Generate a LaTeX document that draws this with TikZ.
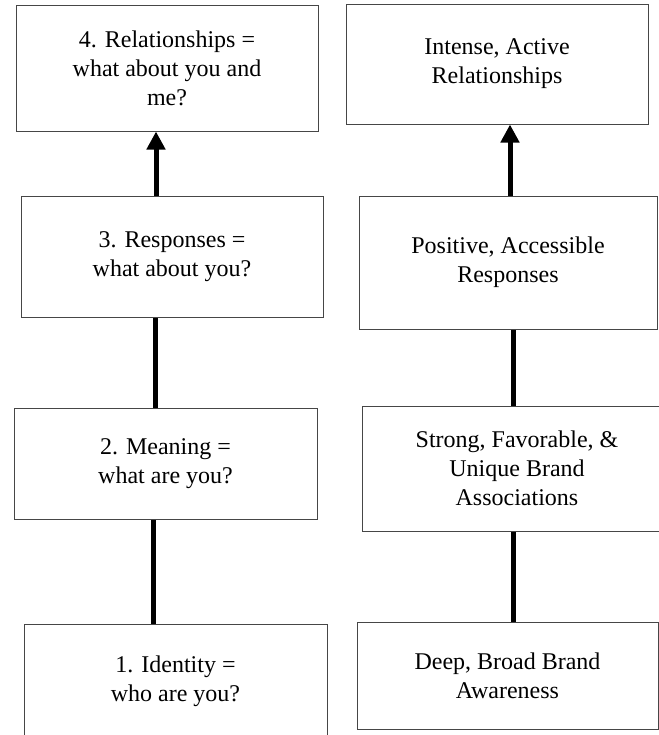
\documentclass[tikz,border=0pt]{standalone}
\usepackage{fontspec}
\setmainfont{Liberation Serif}
\usepackage{tikz}
\usetikzlibrary{arrows.meta, positioning}
\definecolor{boxline}{RGB}{70,70,70}

\begin{document}
\begin{tikzpicture}[
    x=0.5pt, y=-0.5pt,
    box/.style={
        rectangle,
        draw=boxline,
        line width=0.5pt,
        align=center,
        inner sep=0pt,
        font=\fontsize{12pt}{14.5pt}\selectfont
    },
    stem/.style={line width=2.5pt, draw=black},
    arrow/.style={stem, -{Triangle[length=9pt, width=9pt]}}
]
\useasboundingbox (0,0) rectangle (659,735);

% left column: the four steps
\node[box, minimum width=151pt, minimum height=63pt] (l4) at (167,68) {4. Relationships =\\what about you and\\me?};
\node[box, minimum width=151pt, minimum height=60.5pt] (l3) at (172,256.5) {3. Responses =\\what about you?};
\node[box, minimum width=151.5pt, minimum height=55.5pt] (l2) at (165.5,463.5) {2. Meaning =\\what are you?};
\node[box, minimum width=151.5pt, minimum height=57pt] (l1) at (175.5,681) {1. Identity =\\who are you?};

% right column: the brand building blocks
\node[box, minimum width=151pt, minimum height=60pt] (r4) at (497,64) {Intense, Active\\Relationships};
\node[box, minimum width=149pt, minimum height=66.5pt] (r3) at (508,262.5) {Positive, Accessible\\Responses};
\node[box, minimum width=155pt, minimum height=62.5pt] (r2) at (517,468.5) {Strong, Favorable, \&\\Unique Brand\\Associations};
\node[box, minimum width=150.5pt, minimum height=53.5pt] (r1) at (507.5,675.5) {Deep, Broad Brand\\Awareness};

\draw[arrow] ([xshift=-8pt]l3.north) -- ([xshift=-5.5pt]l4.south);
\draw[stem] ([xshift=-5.25pt]l2.north) -- ([xshift=-8.5pt]l3.south);
\draw[stem] ([xshift=-11.25pt]l1.north) -- ([xshift=-6.25pt]l2.south);

\draw[arrow] ([xshift=1pt]r3.north) -- ([xshift=6.5pt]r4.south);
\draw[stem] ([xshift=-2pt]r2.north) -- ([xshift=2.5pt]r3.south);
\draw[stem] ([xshift=2.75pt]r1.north) -- ([xshift=-2pt]r2.south);

\end{tikzpicture}
\end{document}
